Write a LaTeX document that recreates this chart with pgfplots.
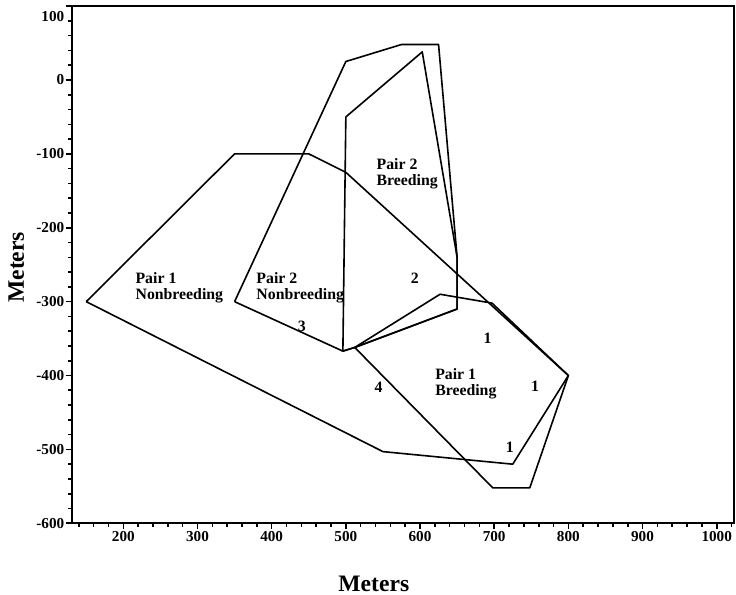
\documentclass[border=0pt]{standalone}
\usepackage{fontspec}
\setmainfont{Liberation Serif}
\usepackage{pgfplots}
\pgfplotsset{compat=1.18}
\newcommand{\tickfont}{\bfseries\fontsize{7.6}{8}\selectfont}
\newcommand{\lblfont}{\bfseries\fontsize{7.9}{7.9}\selectfont}
\begin{document}
\begin{tikzpicture}
\begin{axis}[name=ax, at={(0,0)}, anchor=south west,
  scale only axis, width=331.3pt, height=258.6pt,
  xmin=130.4, xmax=1023.7, ymin=-600, ymax=100,
  axis line style={line width=1pt},
  tick align=outside, tick pos=left,
  major tick length=3pt, minor tick length=1.7pt,
  every tick/.style={black, line width=0.8pt},
  xtick={200,300,...,1000},
  xticklabels={200,300,400,500,600,700,800,900,1000},
  minor xtick={140,160,...,1020},
  ytick={-600,-500,...,0},
  yticklabels={-600,-500,-400,-300,-200,-100,0},
  minor ytick={-580,-560,...,80},
  extra y ticks={100}, extra y tick labels={100},
  extra y tick style={yticklabel style={yshift=-5pt}},
  xticklabel style={font=\tickfont, inner sep=1pt},
  yticklabel style={font=\tickfont, inner sep=0.5pt},
  xlabel={Meters}, ylabel={Meters},
  xlabel style={font=\bfseries\fontsize{11.8}{12}\selectfont, at={(axis description cs:0.456,-0.1328)}, anchor=base},
  ylabel style={font=\bfseries\fontsize{11.8}{12}\selectfont, at={(axis description cs:-0.072,0.495)}, anchor=base},
  clip=false,
]
% Pair 1 Nonbreeding
\addplot[black, line width=0.8pt, line join=round, mark=none] coordinates {
  (150,-300) (350,-100) (450,-100) (500,-125) (800,-400) (725,-520) (550,-503) (150,-300)};
% Pair 2 Nonbreeding
\addplot[black, line width=0.8pt, line join=round, mark=none] coordinates {
  (350,-300) (500,25) (575,48) (625,48) (650,-240) (650,-310) (512,-362) (496,-367) (350,-300)};
% Pair 2 Breeding
\addplot[black, line width=0.8pt, line join=round, mark=none] coordinates {
  (500,-50) (603,38) (650,-240) (650,-310) (512,-362) (496,-367) (500,-50)};
% Pair 1 Breeding
\addplot[black, line width=0.8pt, line join=round, mark=none] coordinates {
  (512,-362) (627,-290) (697,-302) (800,-400) (748,-552) (698,-552) (512,-362)};
\node[anchor=north west, align=left, inner sep=0pt, font=\lblfont] at (axis cs:216,-260) {Pair 1\\Nonbreeding};
\node[anchor=north west, align=left, inner sep=0pt, font=\lblfont] at (axis cs:379,-260) {Pair 2\\Nonbreeding};
\node[anchor=north west, align=left, inner sep=0pt, font=\lblfont] at (axis cs:541,-106) {Pair 2\\Breeding};
\node[anchor=north west, align=left, inner sep=0pt, font=\lblfont] at (axis cs:620,-390) {Pair 1\\Breeding};
\node[inner sep=0pt, font=\lblfont] at (axis cs:691,-350) {1};
\node[inner sep=0pt, font=\lblfont] at (axis cs:755,-415) {1};
\node[inner sep=0pt, font=\lblfont] at (axis cs:721,-497) {1};
\node[inner sep=0pt, font=\lblfont] at (axis cs:544,-416) {4};
\node[inner sep=0pt, font=\lblfont] at (axis cs:440.5,-333) {3};
\node[inner sep=0pt, font=\lblfont] at (axis cs:593,-269) {2};
\end{axis}
\pgfresetboundingbox
\path[use as bounding box] ([xshift=-35.85pt,yshift=-35.85pt]ax.south west) rectangle ([xshift=0.85pt,yshift=3.05pt]ax.north east);
\end{tikzpicture}
\end{document}
